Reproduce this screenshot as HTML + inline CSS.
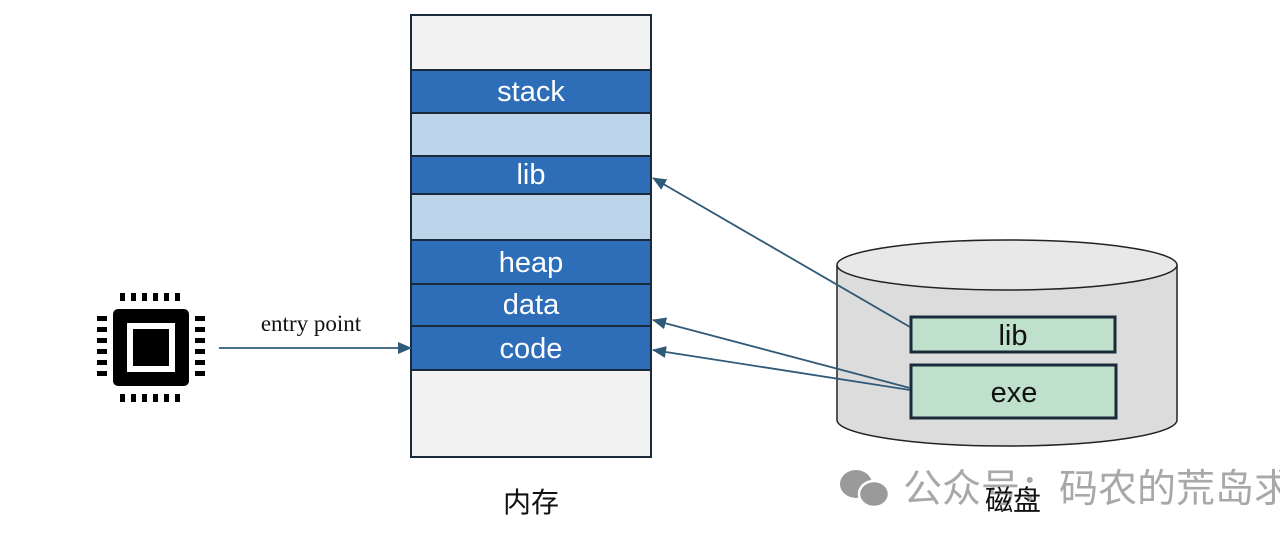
<!DOCTYPE html>
<html><head><meta charset="utf-8"><style>
body{margin:0;width:1280px;height:544px;background:#fff;overflow:hidden}
</style></head><body>
<svg width="1280" height="544" xmlns="http://www.w3.org/2000/svg" style="position:absolute;left:0;top:0">
<defs><marker id="a" markerWidth="14" markerHeight="14" refX="13" refY="7" orient="auto" markerUnits="userSpaceOnUse"><path d="M0,1 L14,7 L0,13 z" fill="#2f5a78"/></marker></defs>
<!-- memory -->
<g stroke="#1a2a3a" stroke-width="2">
<rect x="411" y="15" width="240" height="55" fill="#f2f2f2"/>
<rect x="411" y="70" width="240" height="43" fill="#2e6db8"/>
<rect x="411" y="113" width="240" height="43" fill="#bcd5ea"/>
<rect x="411" y="156" width="240" height="38" fill="#2e6db8"/>
<rect x="411" y="194" width="240" height="46" fill="#bcd5ea"/>
<rect x="411" y="240" width="240" height="44" fill="#2e6db8"/>
<rect x="411" y="284" width="240" height="42" fill="#2e6db8"/>
<rect x="411" y="326" width="240" height="44" fill="#2e6db8"/>
<rect x="411" y="370" width="240" height="87" fill="#f2f2f2"/>
</g>
<g font-family="Liberation Sans, sans-serif" font-size="29" fill="#fff" text-anchor="middle">
<text x="531" y="101">stack</text><text x="531" y="184">lib</text>
<text x="531" y="272">heap</text><text x="531" y="314">data</text><text x="531" y="358">code</text>
</g>
<!-- cylinder -->
<path d="M837,265 L837,420 A170,26 0 0 0 1177,420 L1177,265" fill="#dcdcdc" stroke="#222" stroke-width="1.5"/>
<ellipse cx="1007" cy="265" rx="170" ry="25" fill="#e8e8e8" stroke="#222" stroke-width="1.5"/>
<rect x="911" y="317" width="204" height="35" fill="#bfe0cb" stroke="#1a2a3a" stroke-width="3"/>
<rect x="911" y="365" width="205" height="53" fill="#bfe0cb" stroke="#1a2a3a" stroke-width="3"/>
<g font-family="Liberation Sans, sans-serif" font-size="29" fill="#111" text-anchor="middle">
<text x="1013" y="345">lib</text><text x="1014" y="402">exe</text></g>
<g stroke="#2f5a78" stroke-width="1.8" fill="none" marker-end="url(#a)">
<line x1="910" y1="327" x2="653" y2="178"/>
<line x1="910" y1="388" x2="653" y2="320"/>
<line x1="910" y1="390" x2="653" y2="350"/>
<line x1="219" y1="348" x2="411" y2="348"/>
</g>
<text x="311" y="331" font-family="Liberation Serif, serif" font-size="23" text-anchor="middle" fill="#111">entry point</text>
<!-- chip -->
<rect x="113" y="309" width="76" height="77" rx="5" fill="#000"/>
<rect x="127" y="323" width="48" height="49" fill="#fff"/>
<rect x="133" y="329" width="36" height="37" fill="#000"/>
<g fill="#000">
<rect x="120" y="293" width="5" height="8"/><rect x="131" y="293" width="5" height="8"/><rect x="142" y="293" width="5" height="8"/><rect x="153" y="293" width="5" height="8"/><rect x="164" y="293" width="5" height="8"/><rect x="175" y="293" width="5" height="8"/>
<rect x="120" y="394" width="5" height="8"/><rect x="131" y="394" width="5" height="8"/><rect x="142" y="394" width="5" height="8"/><rect x="153" y="394" width="5" height="8"/><rect x="164" y="394" width="5" height="8"/><rect x="175" y="394" width="5" height="8"/>
<rect x="97" y="316" width="10" height="5"/><rect x="97" y="327" width="10" height="5"/><rect x="97" y="338" width="10" height="5"/><rect x="97" y="349" width="10" height="5"/><rect x="97" y="360" width="10" height="5"/><rect x="97" y="371" width="10" height="5"/>
<rect x="195" y="316" width="10" height="5"/><rect x="195" y="327" width="10" height="5"/><rect x="195" y="338" width="10" height="5"/><rect x="195" y="349" width="10" height="5"/><rect x="195" y="360" width="10" height="5"/><rect x="195" y="371" width="10" height="5"/>
</g>
<!-- watermark -->
<g fill="#9a9a9a"><ellipse cx="856" cy="484" rx="16" ry="14"/><ellipse cx="874" cy="494" rx="15" ry="13" stroke="#fff" stroke-width="2.5"/></g>
<text x="903" y="502" font-family="Liberation Sans, 'Noto Sans CJK SC', sans-serif" font-size="39" fill="#a8a8a8">公众号：码农的荒岛求生</text>
<g font-family="Liberation Sans, 'Noto Sans CJK SC', sans-serif" font-size="28" fill="#111" text-anchor="middle">
<text x="531" y="512">内存</text><text x="1013" y="510">磁盘</text></g>
</svg>
</body></html>
